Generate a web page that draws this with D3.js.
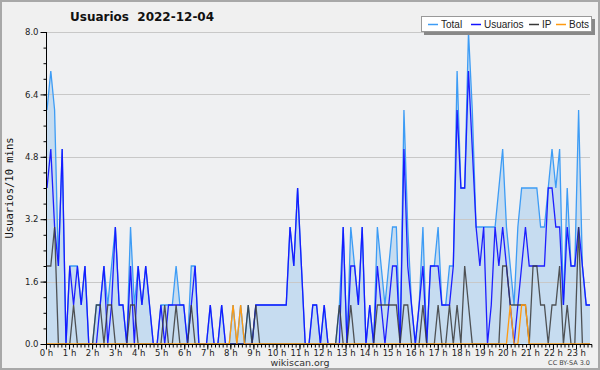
<!DOCTYPE html>
<html>
  <head>
    <meta charset="utf-8" />
    <title>Usuarios 2022-12-04</title>
    <script src="https://d3js.org/d3.v7.min.js" charset="utf-8"></script>
    <style>
      html,
      body {
        margin: 0;
        padding: 0;
        background-color: #f0f0f0;
      }
      svg {
        display: block;
        font-family: "DejaVu Sans", sans-serif;
      }
    </style>
  </head>

  <body>
    <svg id="chart"></svg>

    <script>
      // Values per 10 minutes, 00:00 .. 23:50
      const total = [
        6, 7, 6, 2, 5, 0, 2, 2, 2, 1, 2, 0, 0, 1, 1, 2, 1, 2, 3, 1, 1, 0, 3, 1,
        2, 1, 2, 1, 0, 0, 1, 1, 1, 1, 2, 1, 1, 0, 2, 2, 0, 0, 0, 1, 0, 0, 1, 0,
        0, 1, 0, 1, 0, 1, 0, 1, 1, 1, 1, 1, 1, 1, 1, 1, 3, 2, 4, 2, 0, 0, 1, 1,
        0, 1, 0, 0, 0, 1, 3, 0, 3, 2, 1, 3, 0, 1, 0, 3, 2, 1, 2, 3, 3, 0, 6, 3,
        1, 0, 1, 3, 0, 2, 2, 3, 1, 1, 2, 2, 7, 4, 4, 8, 6, 3, 3, 3, 3, 3, 3, 4,
        5, 3, 2, 1, 3, 4, 4, 4, 4, 4, 3, 3, 4, 5, 4, 5, 1, 4, 2, 2, 6, 2, 1, 1
      ];
      const usuarios = [
        4, 5, 3, 2, 5, 0, 2, 1, 2, 1, 2, 0, 0, 0, 1, 2, 0, 1, 3, 1, 1, 0, 2, 0,
        2, 1, 2, 1, 0, 0, 1, 0, 1, 1, 1, 1, 1, 0, 1, 2, 0, 0, 0, 1, 0, 0, 1, 0,
        0, 0, 0, 0, 0, 0, 0, 1, 1, 1, 1, 1, 1, 1, 1, 1, 3, 2, 4, 2, 0, 0, 1, 1,
        0, 1, 0, 0, 0, 0, 3, 0, 2, 2, 1, 3, 0, 1, 0, 2, 1, 0, 1, 2, 2, 0, 5, 2,
        1, 0, 1, 2, 0, 2, 2, 2, 1, 1, 1, 2, 6, 4, 4, 7, 5, 3, 2, 3, 0, 1, 3, 2,
        3, 2, 1, 0, 1, 2, 3, 2, 2, 2, 2, 2, 4, 4, 3, 3, 1, 3, 2, 2, 3, 2, 1, 1
      ];
      const ip = [
        2, 2, 3, 0, 0, 0, 0, 1, 0, 0, 0, 0, 0, 1, 1, 0, 1, 1, 0, 0, 0, 0, 1, 1,
        0, 0, 0, 0, 0, 0, 0, 1, 0, 0, 1, 0, 0, 0, 1, 0, 0, 0, 0, 0, 0, 0, 0, 0,
        0, 0, 0, 0, 0, 1, 0, 1, 0, 0, 0, 0, 0, 0, 0, 0, 0, 0, 0, 0, 0, 0, 0, 0,
        0, 0, 0, 0, 0, 1, 0, 0, 1, 0, 0, 0, 0, 0, 0, 1, 1, 1, 1, 1, 1, 0, 1, 1,
        0, 0, 0, 1, 0, 0, 0, 1, 0, 0, 1, 0, 1, 0, 2, 1, 0, 0, 0, 0, 0, 0, 0, 0,
        2, 2, 1, 1, 1, 1, 1, 0, 2, 2, 1, 1, 0, 1, 1, 2, 0, 1, 0, 0, 3, 0, 0, 0
      ];
      const bots = [
        0, 0, 0, 0, 0, 0, 0, 0, 0, 0, 0, 0, 0, 0, 0, 0, 0, 0, 0, 0, 0, 0, 0, 0,
        0, 0, 0, 0, 0, 0, 0, 0, 0, 0, 0, 0, 0, 0, 0, 0, 0, 0, 0, 0, 0, 0, 0, 0,
        0, 1, 0, 1, 0, 0, 0, 0, 0, 0, 0, 0, 0, 0, 0, 0, 0, 0, 0, 0, 0, 0, 0, 0,
        0, 0, 0, 0, 0, 0, 0, 0, 0, 0, 0, 0, 0, 0, 0, 0, 0, 0, 0, 0, 0, 0, 0, 0,
        0, 0, 0, 0, 0, 0, 0, 0, 0, 0, 0, 0, 0, 0, 0, 0, 0, 0, 0, 0, 0, 0, 0, 0,
        0, 0, 1, 0, 0, 1, 1, 0, 0, 0, 0, 0, 0, 0, 0, 0, 0, 0, 0, 0, 0, 0, 0, 0
      ];
      const yTicks = [0, 1.6, 3.2, 4.8, 6.4, 8.0];
      const hourLabels = [
        "0 h", "1 h", "2 h", "3 h", "4 h", "5 h", "6 h", "7 h", "8 h", "9 h",
        "10 h", "11 h", "12 h", "13 h", "14 h", "15 h", "16 h", "17 h", "18 h",
        "19 h", "20 h", "21 h", "22 h", "23 h"
      ];
      const legendNames = ["Total", "Usuarios", "IP", "Bots"];

      // SVG size
      const width = 600;
      const height = 370;

      // plot area
      const pLeft = 47;
      const pRight = 590;
      const pTop = 32;
      const pBottom = 344;

      const colors = {
        fill: "#c6dcf0",
        total: "#3d9cf5",
        usuarios: "#1414ff",
        ip: "#383838",
        bots: "#ff9a10"
      };

      const svg = d3
        .select("#chart")
        .attr("width", width)
        .attr("height", height);

      // outer frame
      svg
        .append("rect")
        .attr("x", 1)
        .attr("y", 1)
        .attr("width", width - 2)
        .attr("height", height - 2)
        .attr("fill", "#f0f0f0")
        .attr("stroke", "#a8a8a8")
        .attr("stroke-width", 2);

      // plot background
      svg
        .append("rect")
        .attr("x", pLeft)
        .attr("y", pTop)
        .attr("width", pRight - pLeft)
        .attr("height", pBottom - pTop)
        .attr("fill", "#eff0f2");

      const x = d3
        .scaleLinear()
        .domain([0, total.length - 1])
        .range([pLeft, pRight]);
      const y = d3.scaleLinear().domain([0, 8]).range([pBottom, pTop]);

      // the axis ticks run on a slightly wider spacing than the points
      const xTick = d3.scaleLinear().domain([0, 138]).range([46, 576]);

      // area under Total
      const area = d3
        .area()
        .x((d, i) => x(i))
        .y0(y(0))
        .y1((d) => y(d));
      svg
        .append("path")
        .datum(total)
        .attr("d", area)
        .attr("fill", colors.fill);

      // horizontal grid
      svg
        .append("g")
        .selectAll("line")
        .data(yTicks.slice(1))
        .enter()
        .append("line")
        .attr("x1", pLeft)
        .attr("x2", pRight)
        .attr("y1", (d) => Math.round(y(d)) + 0.5)
        .attr("y2", (d) => Math.round(y(d)) + 0.5)
        .attr("stroke", "#c8c8c8")
        .attr("stroke-width", 1);

      // series lines
      const line = d3
        .line()
        .x((d, i) => x(i))
        .y((d) => y(d));

      const series = [
        { data: total, color: colors.total, op: 1 },
        { data: usuarios, color: colors.usuarios, op: 0.95 },
        { data: ip, color: colors.ip, op: 0.85 },
        { data: bots, color: colors.bots, op: 1 }
      ];
      series.forEach((s) => {
        svg
          .append("path")
          .datum(s.data)
          .attr("d", line)
          .attr("fill", "none")
          .attr("stroke", s.color)
          .attr("stroke-opacity", s.op)
          .attr("stroke-width", 1.3)
          .attr("stroke-linejoin", "miter");
      });

      // y axis
      const yAxis = d3
        .axisLeft(y)
        .tickValues(yTicks)
        .tickFormat(d3.format(".1f"))
        .tickSize(6)
        .tickPadding(2);
      const yMinor = d3
        .axisLeft(y)
        .tickValues(d3.range(0, 8.01, 0.4))
        .tickFormat("")
        .tickSize(3);
      svg
        .append("g")
        .attr("transform", `translate(${pLeft - 0.5},0)`)
        .call(yMinor)
        .call((g) => g.select(".domain").remove());
      svg
        .append("g")
        .attr("transform", `translate(${pLeft - 0.5},0)`)
        .call(yAxis)
        .call((g) => g.select(".domain").attr("d", `M0,${pTop}V${pBottom}`))
        .selectAll("text")
        .attr("font-family", "'DejaVu Sans', sans-serif")
        .attr("font-size", 8.5)
        .attr("fill", "#222");

      // x axis
      const xAxis = d3
        .axisBottom(xTick)
        .tickValues(d3.range(0, 139, 6))
        .tickFormat((d, i) => hourLabels[i])
        .tickSize(5)
        .tickPadding(0);
      const xMinor = d3
        .axisBottom(xTick)
        .tickValues(d3.range(0, 143))
        .tickFormat("")
        .tickSize(3);
      svg
        .append("g")
        .attr("transform", `translate(0,${pBottom + 0.5})`)
        .call(xMinor)
        .call((g) => g.select(".domain").remove());
      svg
        .append("g")
        .attr("transform", `translate(0,${pBottom + 0.5})`)
        .call(xAxis)
        .call((g) =>
          g.select(".domain").attr("d", `M${pLeft - 1},0H${pRight + 2}`)
        )
        .selectAll("text")
        .attr("font-family", "'DejaVu Sans', sans-serif")
        .attr("font-size", 8.5)
        .attr("fill", "#222");

      // title
      svg
        .append("text")
        .attr("x", 70)
        .attr("y", 21)
        .attr("font-size", 12)
        .attr("font-weight", "bold")
        .attr("fill", "#111")
        .attr("xml:space", "preserve")
        .text("Usuarios  2022-12-04");

      // y axis title
      svg
        .append("text")
        .attr("transform", `translate(13,${(pTop + pBottom) / 2}) rotate(-90)`)
        .attr("text-anchor", "middle")
        .attr("font-family", "'DejaVu Sans Mono', monospace")
        .attr("font-size", 10.5)
        .attr("fill", "#111")
        .text("Usuarios/10 mins");

      // legend box with shadow
      const lg = svg.append("g").attr("transform", "translate(421,16)");
      lg.append("rect")
        .attr("x", 3)
        .attr("y", 3)
        .attr("width", 171)
        .attr("height", 16)
        .attr("fill", "#888");
      lg.append("rect")
        .attr("x", 0.5)
        .attr("y", 0.5)
        .attr("width", 170)
        .attr("height", 15)
        .attr("fill", "#fff")
        .attr("stroke", "#999");
      const legendColors = [colors.total, colors.usuarios, colors.ip, colors.bots];
      const legendX = [7, 50, 108, 135];
      legendNames.forEach((name, i) => {
        lg.append("line")
          .attr("x1", legendX[i])
          .attr("x2", legendX[i] + 10)
          .attr("y1", 8.5)
          .attr("y2", 8.5)
          .attr("stroke", legendColors[i])
          .attr("stroke-width", 1.5);
        lg.append("text")
          .attr("x", legendX[i] + 13)
          .attr("y", 12)
          .attr("font-family", "'Liberation Sans', Arial, sans-serif")
          .attr("font-size", 10)
          .attr("fill", "#222")
          .text(name);
      });

      // footer
      svg
        .append("text")
        .attr("x", 300)
        .attr("y", 366)
        .attr("text-anchor", "middle")
        .attr("font-size", 9.5)
        .attr("fill", "#333")
        .text("wikiscan.org");
      svg
        .append("text")
        .attr("x", 590)
        .attr("y", 365)
        .attr("text-anchor", "end")
        .attr("font-size", 6.5)
        .attr("fill", "#444")
        .text("CC BY-SA 3.0");
    </script>
  </body>
</html>
